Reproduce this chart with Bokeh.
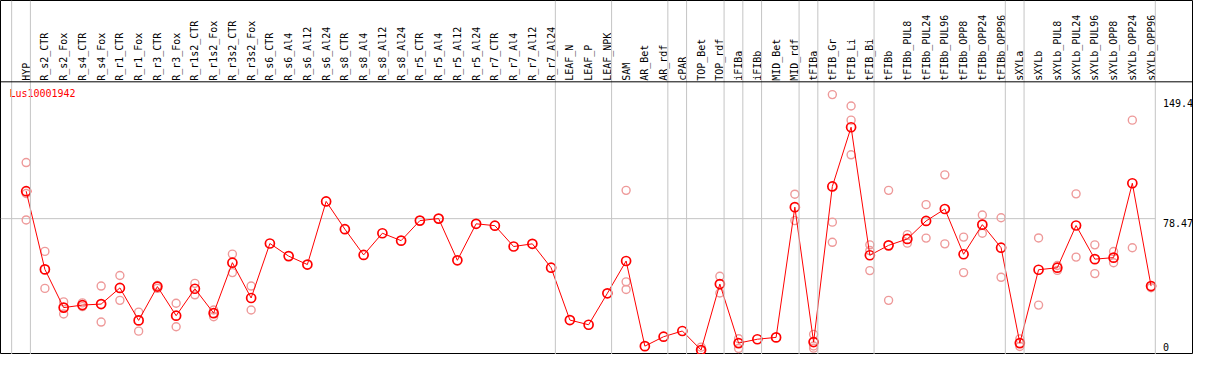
import math
from bokeh.plotting import figure
from bokeh.models import Range1d, Span, ColumnDataSource
from bokeh.core.properties import value
from bokeh.embed import file_html
from bokeh.resources import INLINE

gene = "Lus10001942"

categories = [
    "HYP", "R_s2_CTR", "R_s2_Fox", "R_s4_CTR", "R_s4_Fox", "R_r1_CTR", "R_r1_Fox",
    "R_r3_CTR", "R_r3_Fox", "R_r1s2_CTR", "R_r1s2_Fox", "R_r3s2_CTR", "R_r3s2_Fox",
    "R_s6_CTR", "R_s6_Al4", "R_s6_Al12", "R_s6_Al24", "R_s8_CTR", "R_s8_Al4",
    "R_s8_Al12", "R_s8_Al24", "R_r5_CTR", "R_r5_Al4", "R_r5_Al12", "R_r5_Al24",
    "R_r7_CTR", "R_r7_Al4", "R_r7_Al12", "R_r7_Al24", "LEAF_N", "LEAF_P", "LEAF_NPK",
    "SAM", "AR_Bet", "AR_rdf", "cPAR", "TOP_Bet", "TOP_rdf", "iFIBa", "iFIBb",
    "MID_Bet", "MID_rdf", "tFIBa", "tFIB_Gr", "tFIB_Li", "tFIB_Bi", "tFIBb",
    "tFIBb_PUL8", "tFIBb_PUL24", "tFIBb_PUL96", "tFIBb_OPP8", "tFIBb_OPP24",
    "tFIBb_OPP96", "sXYLa", "sXYLb", "sXYLb_PUL8", "sXYLb_PUL24", "sXYLb_PUL96",
    "sXYLb_OPP8", "sXYLb_OPP24", "sXYLb_OPP96",
]

means = [
    94.8, 48.3, 25.6, 27.1, 27.7, 37.3, 18.0, 38.1, 20.8, 36.8, 22.3, 52.3, 31.3,
    63.7, 56.2, 51.2, 88.7, 72.2, 56.9, 69.8, 65.4, 77.3, 78.5, 53.7, 75.4,
    74.3, 61.9, 63.5, 49.3, 18.2, 15.4, 34.1, 53.3, 2.7, 8.3, 11.7, 0.4, 39.6,
    4.5, 6.8, 7.9, 85.3, 5.1, 97.6, 132.8, 56.7, 62.6, 66.4, 77.1, 84.2, 57.3,
    74.9, 61.2, 4.5, 48.1, 49.3, 74.4, 54.4, 55.3, 99.5, 38.4,
]

replicates = [
    [111.8, 93.4, 77.7], [59.0, 37.0], [29.0, 21.8], [28.4, 26.2], [38.4, 17.0],
    [44.7, 29.9], [22.9, 11.6], [38.7, 37.0], [28.2, 14.2], [40.0, 33.2],
    [24.2, 20.2], [57.4, 46.4], [38.4, 24.2],
    [], [], [], [], [], [], [], [], [], [], [], [], [], [], [], [], [], [], [],
    [95.3, 40.9, 36.4], [], [], [], [2.1, 0.0], [44.2, 34.3], [7.1, 1.3], [], [],
    [93.0, 77.3], [9.7, 2.8, 1.5], [152.2, 76.4, 64.4], [145.4, 137.0, 116.4],
    [62.9, 59.5, 47.6], [95.3, 29.9], [69.0, 63.9], [86.8, 66.9], [104.5, 63.5],
    [67.5, 46.4], [80.6, 69.8], [79.0, 43.6], [7.0, 2.5], [67.0, 27.1],
    [50.6, 47.7], [93.2, 55.6], [62.9, 45.8], [58.9, 52.3], [137.0, 61.2], [37.4],
]

# index of the first sample of each group (plus the end)
group_starts = [0, 1, 29, 32, 35, 36, 38, 39, 40, 42, 43, 46, 53, 54, 61]

axis_ticks = [0, 78.47, 149.4]
axis_labels = ["0", "78.47", "149.4"]

# ---- layout (reference pixel geometry -> data units) ----
X0, DX = 26.0, 19.0          # px of first sample, px per sample
Y0, DY = 366.0, 1.7586       # px of value 0, px per unit
REF_W, REF_H = 1209, 370

def xd(px):
    return (px - X0) / DX

def yd(py):
    return (Y0 - py) / DY

p = figure(width=1193, height=354,
           x_range=Range1d(xd(0), xd(REF_W)), y_range=Range1d(yd(REF_H), yd(0)),
           output_backend="svg", toolbar_location=None, min_border=0,
           x_axis_location=None, y_axis_location=None)
p.grid.visible = False
p.outline_line_color = "black"
p.outline_line_width = 1
p.background_fill_color = "white"
p.border_fill_color = "white"

GRAY = "#C4C4C4"
FONT = value("DejaVu Sans Mono")

boundary_off = -0.774
for g in group_starts:
    p.add_layout(Span(location=g + boundary_off, dimension="height",
                      line_color=GRAY, line_width=1))

p.segment(x0=[xd(0)], y0=[axis_ticks[1]], x1=[group_starts[-1] + boundary_off],
          y1=[axis_ticks[1]], line_color=GRAY, line_width=1)

p.add_layout(Span(location=yd(85), dimension="width", line_color="black", line_width=1))

# category labels
idx = list(range(len(categories)))
p.text(x=idx, y=[yd(84)] * len(idx), text=categories, angle=math.pi / 2,
       text_align="left", text_baseline="middle", text_font=FONT,
       text_font_size="10px", text_color="black")

# replicate points
rx, ry = [], []
for i, reps in enumerate(replicates):
    for v in reps:
        rx.append(i)
        ry.append(v)
p.scatter(x=rx, y=ry, marker="circle", size=8, fill_color=None,
          line_color="#EE9A9A", line_width=1.4)

# mean line and points
src = ColumnDataSource(dict(x=idx, y=means, cat=categories))
p.line(x="x", y="y", source=src, line_color="red", line_width=1)
p.scatter(x="x", y="y", source=src, marker="circle", size=9, fill_color=None,
          line_color="red", line_width=1.7)

# gene label
p.text(x=[xd(9)], y=[yd(97)], text=[gene], text_align="left", text_baseline="middle",
       text_font=FONT, text_font_size="10px", text_color="red")

# value labels at right
baselines = ["bottom" if t == 0 else "top" for t in axis_ticks]
p.text(x=[xd(1178)] * 3, y=axis_ticks, text=axis_labels, text_align="left",
       text_baseline=baselines, text_font=FONT, text_font_size="10px",
       text_color="black")

open("out.html", "w").write(file_html(p, INLINE))
